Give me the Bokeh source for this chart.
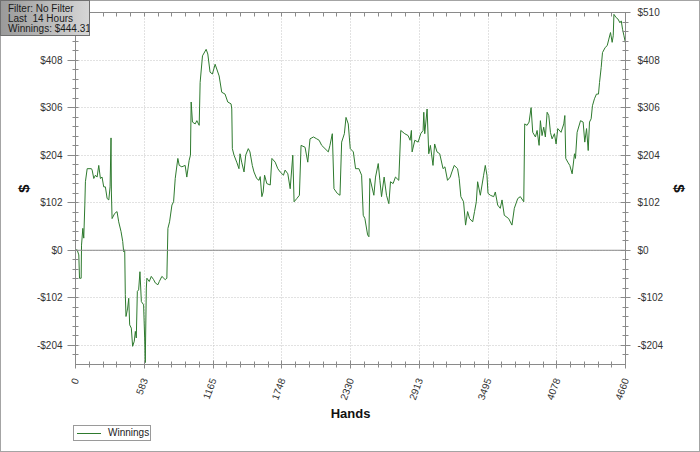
from bokeh.plotting import figure
from bokeh.models import (LinearAxis, FixedTicker, Range1d, Span, Div, GridBox)
from bokeh.embed import file_html
from bokeh.resources import INLINE

# ---------------- data ----------------
hands = [0, 14, 28, 34, 48, 51, 62, 70, 79, 84, 99, 135, 141, 155, 169, 183,
         197, 211, 225, 239, 253, 268, 282, 293, 301, 304, 310, 332, 352, 366,
         386, 400, 408, 417, 422, 428, 442, 451, 459, 473, 484, 498, 507, 515,
         524, 535, 546, 558, 577, 586, 591, 600, 605, 625, 642, 662, 676, 698,
         710, 732, 760, 774, 783, 797, 817, 831, 845, 867, 879, 901, 929, 943,
         963, 974, 980, 991, 1014, 1028, 1048, 1056, 1076, 1107, 1121, 1140,
         1160, 1183, 1217, 1239, 1267, 1290, 1318, 1324, 1329, 1343, 1366, 1385,
         1394, 1408, 1428, 1442, 1464, 1478, 1498, 1512, 1535, 1555, 1565, 1579,
         1590, 1602, 1621, 1650, 1664, 1692, 1714, 1734, 1762, 1776, 1799, 1819,
         1841, 1852, 1875, 1897, 1911, 1945, 1968, 1987, 2016, 2044, 2064, 2086,
         2114, 2142, 2156, 2176, 2190, 2218, 2241, 2255, 2278, 2292, 2311, 2328,
         2354, 2373, 2401, 2424, 2438, 2452, 2475, 2486, 2494, 2508, 2528, 2542,
         2565, 2579, 2593, 2615, 2635, 2655, 2669, 2691, 2711, 2739, 2756, 2790,
         2818, 2835, 2846, 2852, 2875, 2903, 2925, 2945, 2951, 2959, 2979, 2993,
         3007, 3029, 3043, 3063, 3086, 3114, 3130, 3152, 3175, 3189, 3209, 3237,
         3251, 3265, 3288, 3305, 3322, 3339, 3365, 3381, 3396, 3407, 3430, 3458,
         3472, 3486, 3495, 3515, 3543, 3557, 3577, 3599, 3614, 3633, 3670, 3698,
         3718, 3747, 3769, 3798, 3806, 3826, 3843, 3860, 3874, 3897, 3911, 3928,
         3939, 3953, 3967, 3981, 3996, 4010, 4024, 4038, 4058, 4072, 4086, 4114,
         4137, 4146, 4154, 4171, 4188, 4208, 4228, 4236, 4250, 4279, 4301, 4315,
         4330, 4344, 4355, 4369, 4380, 4397, 4414, 4431, 4440, 4454, 4465, 4488,
         4505, 4519, 4533, 4547, 4556, 4562, 4581, 4596, 4613, 4624, 4635, 4647,
         4660]
winnings = [0, 1, -10, -60, -60, 11, 47, 26, 97, 147, 175, 175, 172, 154, 161,
            157, 182, 154, 157, 136, 136, 111, 108, 136, 241, 125, 68, 79, 83,
            61, 40, 19, -3, 1, -95, -142, -124, -103, -160, -167, -206, -195,
            -174, -188, -88, -85, -46, -110, -117, -188, -241, -81, -60, -67,
            -56, -63, -70, -74, -67, -56, -63, -60, 47, 61, 97, 104, 154, 197,
            182, 179, 182, 157, 193, 204, 318, 275, 271, 278, 268, 360, 417,
            431, 421, 382, 378, 399, 374, 339, 335, 318, 314, 303, 218, 204,
            189, 175, 207, 189, 168, 204, 218, 211, 182, 168, 154, 150, 158,
            115, 125, 161, 143, 140, 197, 189, 175, 168, 161, 172, 164, 132,
            204, 104, 111, 118, 225, 221, 189, 239, 243, 239, 236, 225, 218,
            211, 225, 250, 132, 122, 118, 232, 250, 285, 271, 218, 211, 175,
            175, 161, 75, 68, 33, 29, 154, 140, 118, 157, 186, 150, 115, 157,
            118, 100, 147, 143, 157, 150, 257, 250, 246, 236, 257, 211, 236,
            232, 250, 257, 296, 250, 303, 207, 225, 182, 228, 211, 207, 175,
            179, 150, 157, 168, 182, 175, 154, 115, 104, 54, 83, 68, 61, 83,
            104, 147, 118, 161, 182, 161, 122, 118, 115, 125, 97, 90, 108, 75,
            68, 54, 90, 111, 115, 104, 271, 268, 275, 306, 253, 243, 257, 225,
            278, 246, 264, 243, 296, 289, 253, 239, 250, 228, 261, 253, 271,
            289, 197, 189, 182, 164, 207, 197, 253, 278, 275, 232, 261, 214,
            275, 282, 310, 325, 335, 335, 360, 392, 424, 435, 439, 453, 467,
            446, 460, 506, 499, 496, 488, 492, 474, 460, 444.31]

x_ticks = [0, 583, 1165, 1748, 2330, 2913, 3495, 4078, 4660]
y_ticks = [-204, -102, 0, 102, 204, 306, 408, 510]
y_tick_labels = ["-$204", "-$102", "$0", "$102", "$204", "$306", "$408", "$510"]
info_lines = ["Filter: No Filter", "Last&nbsp; 14 Hours", "Winnings: $444.31"]
series_name = "Winnings"
x_title = "Hands"
y_title = "$"

LINE_COLOR = "#2e7a2e"
AX = "#8a8a8a"
FONT = "Liberation Sans"

# ---------------- styling helpers ----------------
def minor_between(ticks, n=5, extra_low=0):
    out = []
    for a, b in zip(ticks[:-1], ticks[1:]):
        step = (b - a) / n
        out += [a + k * step for k in range(1, n)]
    step = (ticks[1] - ticks[0]) / n
    out += [ticks[0] - k * step for k in range(1, extra_low + 1)]
    return out

x_ticker = FixedTicker(ticks=x_ticks, minor_ticks=minor_between(x_ticks))
y_ticker = FixedTicker(ticks=y_ticks, minor_ticks=minor_between(y_ticks, extra_low=1))
top_ticker = FixedTicker(ticks=[], minor_ticks=x_ticks + minor_between(x_ticks))
y_over = {t: s for t, s in zip(y_ticks, y_tick_labels)}

p = figure(width=700, height=452, output_backend="svg", toolbar_location=None,
           x_range=Range1d(0, 4660), y_range=Range1d(-245, 510),
           min_border_left=75, min_border_right=75, min_border_top=12,
           min_border_bottom=88)
p.outline_line_color = None
p.background_fill_color = "white"
p.border_fill_color = "white"

def style_axis(ax):
    ax.axis_line_color = AX
    ax.major_tick_line_color = AX
    ax.minor_tick_line_color = AX
    ax.major_label_text_font = FONT
    ax.major_label_text_font_size = "10px"
    ax.major_label_text_color = "#333333"
    ax.axis_label_text_font = FONT
    ax.axis_label_text_font_style = "bold"
    ax.axis_label_text_font_size = "15px"
    ax.axis_label_text_color = "#111111"

# bottom axis
xa = p.xaxis[0]
xa.ticker = x_ticker
style_axis(xa)
xa.major_label_orientation = 1.22
xa.major_tick_in = 4
xa.major_tick_out = 4
xa.minor_tick_in = 3
xa.minor_tick_out = 3
xa.major_label_standoff = 10
xa.axis_label = x_title
xa.axis_label_text_font_size = "13px"
xa.axis_label_standoff = 1

# left axis
ya = p.yaxis[0]
ya.ticker = y_ticker
style_axis(ya)
ya.major_label_overrides = y_over
ya.major_tick_in = 3
ya.major_tick_out = 8
ya.minor_tick_in = 3
ya.minor_tick_out = 3
ya.major_label_standoff = 5
ya.axis_label = y_title
ya.axis_label_standoff = 2

# right axis
ra = LinearAxis(ticker=y_ticker, major_label_overrides=y_over, axis_label=y_title)
style_axis(ra)
ra.major_tick_in = 5
ra.major_tick_out = 5
ra.minor_tick_in = 3
ra.minor_tick_out = 3
ra.major_label_standoff = 7
ra.axis_label_standoff = 5
p.add_layout(ra, "right")

# top axis (line and inward ticks only, no labels)
ta = LinearAxis(ticker=top_ticker)
style_axis(ta)
ta.major_label_standoff = 0
ta.major_tick_in = 0
ta.major_tick_out = 0
ta.minor_tick_in = 4
ta.minor_tick_out = 0
p.add_layout(ta, "above")

# grids
p.xgrid.ticker = x_ticker
p.ygrid.ticker = y_ticker
for g in (p.xgrid, p.ygrid):
    g.grid_line_color = "#c4c4c4"
    g.grid_line_dash = "1 2"
    g.grid_line_width = 1

p.add_layout(Span(location=0, dimension="width", line_color="#8c8c8c", line_width=1))

r = p.line(hands, winnings, line_color=LINE_COLOR, line_width=1)

# outer frame of the whole chart image
frame_div = Div(text="", width=700, height=452, margin=0,
                styles={"box-sizing": "border-box", "border": "1px solid #a4a4a4",
                        "pointer-events": "none", "z-index": "5"})

# info box (top-left corner, overlapping the plot)
info = Div(text="<br>".join(info_lines), width=90, height=36, margin=0,
           styles={"box-sizing": "border-box", "z-index": "10",
                   "background": "linear-gradient(to right, #9a9a9a, #d6d6d6)",
                   "border": "1px solid #707070",
                   "font-family": FONT, "font-size": "10px",
                   "line-height": "10px", "color": "#1a1a1a",
                   "padding": "3px 0px 0px 7px", "white-space": "nowrap",
                   "overflow": "hidden"})

# legend box below the axis title
legend_html = ('<span style="display:inline-block;width:24px;height:0;'
               'border-top:1px solid %s;vertical-align:middle;'
               'margin:0 7px 0 3px"></span>%s' % (LINE_COLOR, series_name))
legend_div = Div(text=legend_html, width=78, height=16, margin=(425, 0, 0, 73),
                 styles={"box-sizing": "border-box", "z-index": "10",
                         "background": "white", "border": "1px solid #9a9a9a",
                         "font-family": FONT, "font-size": "10px",
                         "line-height": "14px", "color": "#222222",
                         "white-space": "nowrap", "overflow": "hidden"})

layout = GridBox(children=[(p, 0, 0), (frame_div, 0, 0), (info, 0, 0),
                           (legend_div, 0, 0)])
open("out.html", "w").write(file_html(layout, INLINE))
